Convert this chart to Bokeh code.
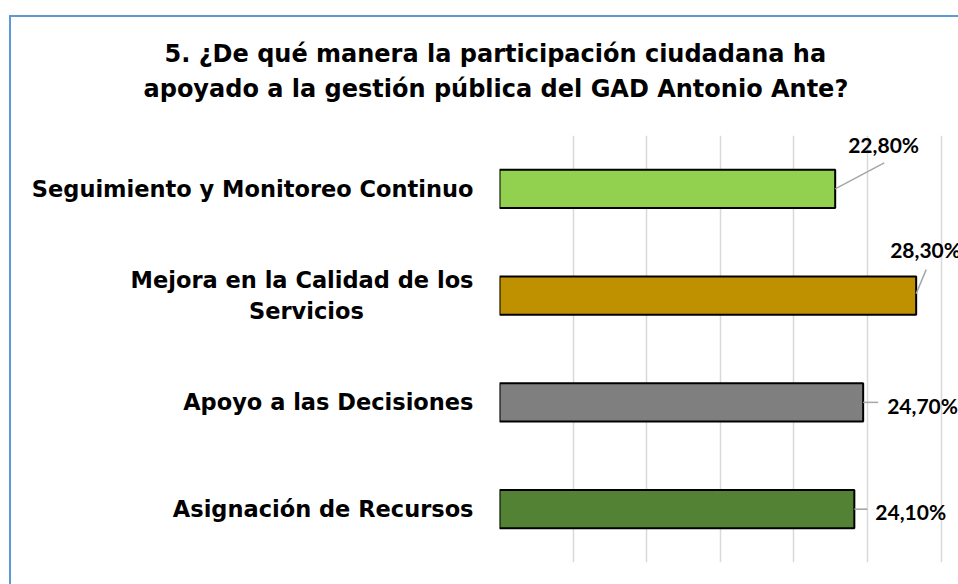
from bokeh.plotting import figure
from bokeh.models import Title, FactorRange, Range1d, FixedTicker, ColumnDataSource
from bokeh.core.properties import value
from bokeh.embed import file_html
from bokeh.resources import INLINE

# ---- data ----
categories = ["Asignación de Recursos", "Apoyo a las Decisiones",
              "Mejora en la Calidad de los Servicios", "Seguimiento y Monitoreo Continuo"]
values = [24.1, 24.7, 28.3, 22.8]
value_labels = ["24,10%", "24,70%", "28,30%", "22,80%"]
bar_colors = ["#548235", "#7F7F7F", "#BF9000", "#92D050"]
x_ticks = [0, 5, 10, 15, 20, 25, 30]
title_lines = ["5. ¿De qué manera la participación ciudadana ha",
               "apoyado a la gestión pública del GAD Antonio Ante?"]

# ---- layout (pixel offsets of data labels & leader lines) ----
PX_X = 14.723   # pixels per percent
PX_Y = 106.75   # pixels per category
lab_dx = [21, 24, -26, 13]
lab_dy = [2.4, 2.7, -46, -44]      # + = down
lead_y0 = [0, 0, -2, 0]
lead_dx = [13, 15, 10, 49]
lead_dy = [0, 0, -26, -26]
FSP = "\u2007"  # figure space: centres the wrapped second line under the first

# wrapped display form of the category names (axis factors)
wrap = {categories[2]: "Mejora en la Calidad de los\nServicios" + FSP * 7}
factors = [wrap.get(c, c) for c in categories]

W, H = 958, 584
p = figure(y_range=FactorRange(factors=factors), x_range=Range1d(0, 31.175),
           width=W, height=H, min_border_left=499, min_border_right=0,
           min_border_top=135, min_border_bottom=22,
           output_backend="svg", toolbar_location=None)
p.outline_line_color = None
p.border_fill_color = None
p.background_fill_color = "white"
p.styles = {
    "background": "linear-gradient(#5B9BD5, #5B9BD5) 9px 15px / 2px 100% no-repeat, "
                  "linear-gradient(#5B9BD5, #5B9BD5) 9px 15px / 100% 2px no-repeat, white"
}
p.xaxis.visible = False
p.ygrid.visible = False
p.xgrid.ticker = FixedTicker(ticks=x_ticks)
p.xgrid.grid_line_color = "#D9D9D9"
p.xgrid.grid_line_width = 1.5

ax = p.yaxis[0]
ax.axis_line_color = None
ax.major_tick_line_color = None
ax.minor_tick_line_color = None
ax.major_label_standoff = 20
ax.major_label_text_font = "DejaVu Sans"
ax.major_label_text_font_style = "bold"
ax.major_label_text_font_size = "22.5px"
ax.major_label_text_color = "#000000"

src = ColumnDataSource(dict(cat=factors, val=values, color=bar_colors))
p.hbar(y="cat", left=0, right="val", height=0.36, fill_color="color",
       line_color="#000000", line_width=2, source=src)

seg = ColumnDataSource(dict(
    x0=values,
    y0=[(c, -d / PX_Y) for c, d in zip(factors, lead_y0)],
    x1=[v + d / PX_X for v, d in zip(values, lead_dx)],
    y1=[(c, -d / PX_Y) for c, d in zip(factors, lead_dy)],
))
p.segment(x0="x0", y0="y0", x1="x1", y1="y1", line_color="#A6A6A6", line_width=1.5, source=seg)

txt = ColumnDataSource(dict(
    x=[v + d / PX_X for v, d in zip(values, lab_dx)],
    y=[(c, -d / PX_Y) for c, d in zip(factors, lab_dy)],
    t=value_labels,
))
p.text(x="x", y="y", text="t", source=txt, text_align="left", text_baseline="middle",
       text_font=value("Lato"), text_font_style="bold", text_font_size="21px",
       text_color="#000000")

# title: two lines (second line is added first: nearest the frame)
for ln, off, so in [(title_lines[1], -356, 66), (title_lines[0], -335, -56)]:
    p.add_layout(Title(text=ln, align="left", offset=off, standoff=so,
                       text_font="DejaVu Sans", text_font_style="bold",
                       text_font_size="24px", text_color="#000000"), "above")

open("out.html", "w").write(file_html(p, INLINE))
